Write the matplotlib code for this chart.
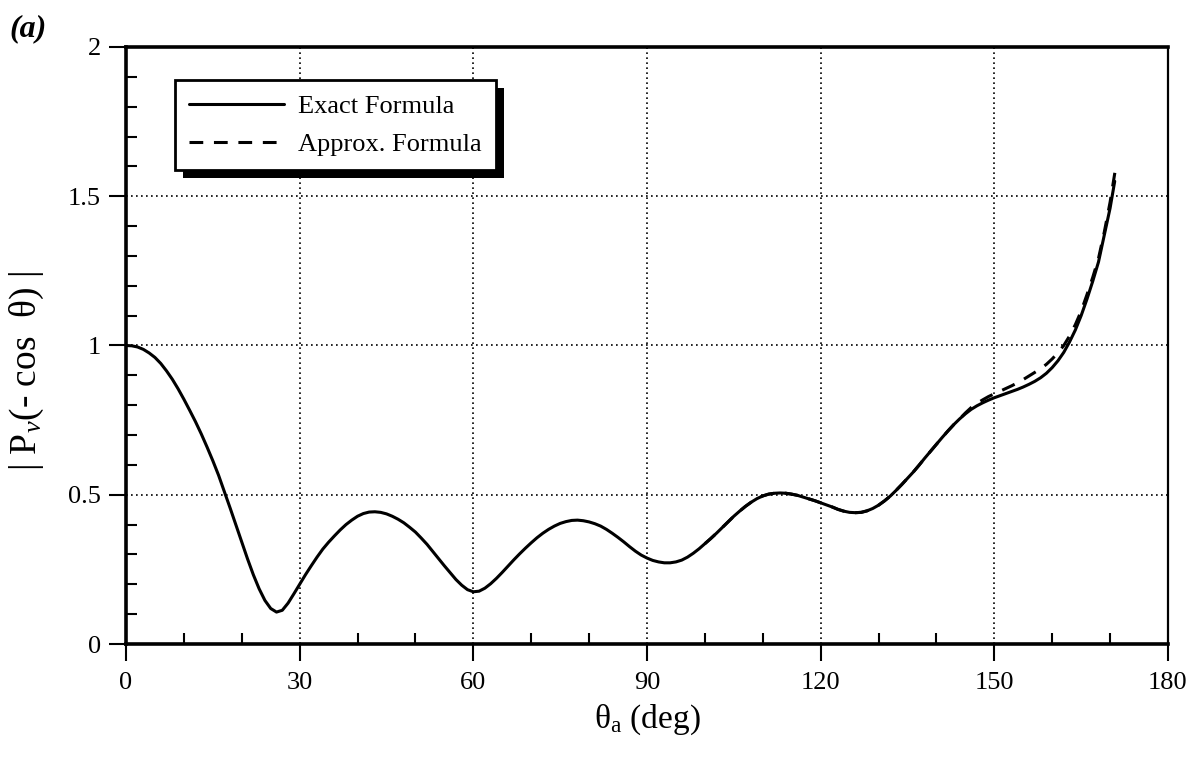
import matplotlib
matplotlib.use("Agg")
import matplotlib.pyplot as plt
from matplotlib.patches import Rectangle
from matplotlib.ticker import MultipleLocator

plt.rcParams["font.family"] = ["Liberation Serif", "DejaVu Serif"]
plt.rcParams["mathtext.fontset"] = "custom"
plt.rcParams["mathtext.rm"] = "Liberation Serif"
plt.rcParams["mathtext.it"] = "Liberation Serif:italic"

# |P_nu(-cos theta)| versus theta_a (deg), exact formula, 1-degree samples
theta_exact = list(range(0, 171)) + [170.8]
p_exact = [
    1.000, 0.999, 0.995, 0.987, 0.975, 0.960, 0.940, 0.915, 0.887, 0.855,   # 0-9
    0.820, 0.783, 0.745, 0.704, 0.660, 0.614, 0.565, 0.510, 0.455, 0.398,   # 10-19
    0.340, 0.285, 0.232, 0.185, 0.146, 0.119, 0.107, 0.113, 0.137, 0.168,   # 20-29
    0.200, 0.232, 0.262, 0.291, 0.318, 0.341, 0.362, 0.382, 0.400, 0.415,   # 30-39
    0.428, 0.437, 0.442, 0.443, 0.441, 0.436, 0.428, 0.418, 0.406, 0.391,   # 40-49
    0.375, 0.355, 0.334, 0.310, 0.286, 0.262, 0.239, 0.216, 0.197, 0.182,   # 50-59
    0.175, 0.177, 0.187, 0.202, 0.220, 0.240, 0.261, 0.282, 0.302, 0.321,   # 60-69
    0.339, 0.356, 0.371, 0.384, 0.395, 0.404, 0.410, 0.414, 0.415, 0.413,   # 70-79
    0.409, 0.403, 0.395, 0.384, 0.371, 0.357, 0.342, 0.326, 0.311, 0.298,   # 80-89
    0.288, 0.280, 0.275, 0.272, 0.272, 0.275, 0.281, 0.291, 0.304, 0.319,   # 90-99
    0.336, 0.353, 0.371, 0.390, 0.409, 0.428, 0.445, 0.461, 0.475, 0.487,   # 100-109
    0.496, 0.502, 0.505, 0.506, 0.505, 0.502, 0.498, 0.492, 0.486, 0.480,   # 110-119
    0.473, 0.466, 0.459, 0.451, 0.445, 0.441, 0.440, 0.441, 0.446, 0.454,   # 120-129
    0.465, 0.479, 0.495, 0.514, 0.534, 0.555, 0.576, 0.599, 0.623, 0.646,   # 130-139
    0.669, 0.692, 0.714, 0.735, 0.754, 0.771, 0.786, 0.798, 0.808, 0.817,   # 140-149
    0.825, 0.832, 0.839, 0.846, 0.853, 0.861, 0.870, 0.880, 0.892, 0.907,   # 150-159
    0.926, 0.949, 0.977, 1.012, 1.052, 1.100, 1.155, 1.215, 1.280, 1.370,   # 160-169
    1.460, 1.550,                                                           # 170, 170.8
]

# approximate formula, 100-171 degrees
theta_approx = list(range(100, 172))
p_approx = [
    0.336, 0.353, 0.371, 0.390, 0.409, 0.428, 0.445, 0.461, 0.475, 0.487,   # 100-109
    0.496, 0.502, 0.505, 0.506, 0.505, 0.502, 0.498, 0.492, 0.486, 0.480,   # 110-119
    0.473, 0.466, 0.459, 0.451, 0.445, 0.441, 0.440, 0.441, 0.446, 0.454,   # 120-129
    0.465, 0.479, 0.495, 0.514, 0.534, 0.555, 0.576, 0.599, 0.623, 0.646,   # 130-139
    0.669, 0.692, 0.714, 0.735, 0.754, 0.774, 0.792, 0.806, 0.818, 0.829,   # 140-149
    0.838, 0.847, 0.856, 0.865, 0.875, 0.886, 0.898, 0.910, 0.922, 0.937,   # 150-159
    0.955, 0.976, 1.000, 1.032, 1.070, 1.115, 1.170, 1.228, 1.292, 1.380,   # 160-169
    1.480, 1.600,                                                           # 170-171
]

xticks = [0, 30, 60, 90, 120, 150, 180]
yticks = [0, 0.5, 1, 1.5, 2]
ytick_labels = ["0", "0.5", "1", "1.5", "2"]

fig = plt.figure(figsize=(12.01, 7.59), dpi=100)
ax = fig.add_axes([0.1049, 0.1515, 0.8676, 0.7866])

ax.plot(theta_exact, p_exact, color="black", lw=2.2, solid_capstyle="round",
        solid_joinstyle="round", label="Exact Formula", zorder=3)
ax.plot(theta_approx, p_approx, color="black", lw=2.2, linestyle=(0, (4.5, 3.5)),
        label="Approx. Formula", zorder=3)

ax.set_xlim(0, 180)
ax.set_ylim(0, 2)
ax.set_xticks(xticks)
ax.set_yticks(yticks)
ax.set_yticklabels(ytick_labels)
ax.xaxis.set_minor_locator(MultipleLocator(10))
ax.yaxis.set_minor_locator(MultipleLocator(0.1))

ax.tick_params(axis="both", which="major", direction="out", length=12, width=1.5,
               pad=6, colors="black")
ax.tick_params(axis="y", which="major", labelsize=19)
ax.tick_params(axis="x", which="major", labelsize=19, pad=8)
ax.tick_params(axis="both", which="minor", direction="in", length=8, width=1.5)

for side in ["left", "bottom", "top"]:
    ax.spines[side].set_linewidth(2.6)
ax.spines["right"].set_linewidth(1.6)

ax.grid(True, which="major", color="black", linestyle=(0, (1, 2)), linewidth=1.2)

ax.set_xlabel("θ$_\\mathrm{a}$ (deg)", fontsize=24, labelpad=6)
ax.set_ylabel("| P$_{\\nu}$(- cos  θ) |", fontsize=27)
ax.yaxis.set_label_coords(-0.077, 0.457)

fig.text(0.008, 0.952, "(a)", fontsize=23, fontweight="bold", fontstyle="italic")

leg = ax.legend(loc="upper left", bbox_to_anchor=(0.047, 0.945), fontsize=19,
                frameon=True, fancybox=False, edgecolor="black", framealpha=1,
                handlelength=3.6, handletextpad=0.5, borderpad=0.55,
                labelspacing=0.55, borderaxespad=0)
leg.get_frame().set_linewidth(2.0)
leg.set_zorder(6)

fig.canvas.draw()
bb = leg.get_window_extent().transformed(fig.transFigure.inverted())
dx, dy = 8 / 1201, 8 / 759
shadow = Rectangle((bb.x0 + dx, bb.y0 - dy), bb.width, bb.height,
                   transform=fig.transFigure, facecolor="black", edgecolor="none",
                   zorder=5, clip_on=False)
ax.add_patch(shadow)

fig.savefig("out.png", dpi=100)
